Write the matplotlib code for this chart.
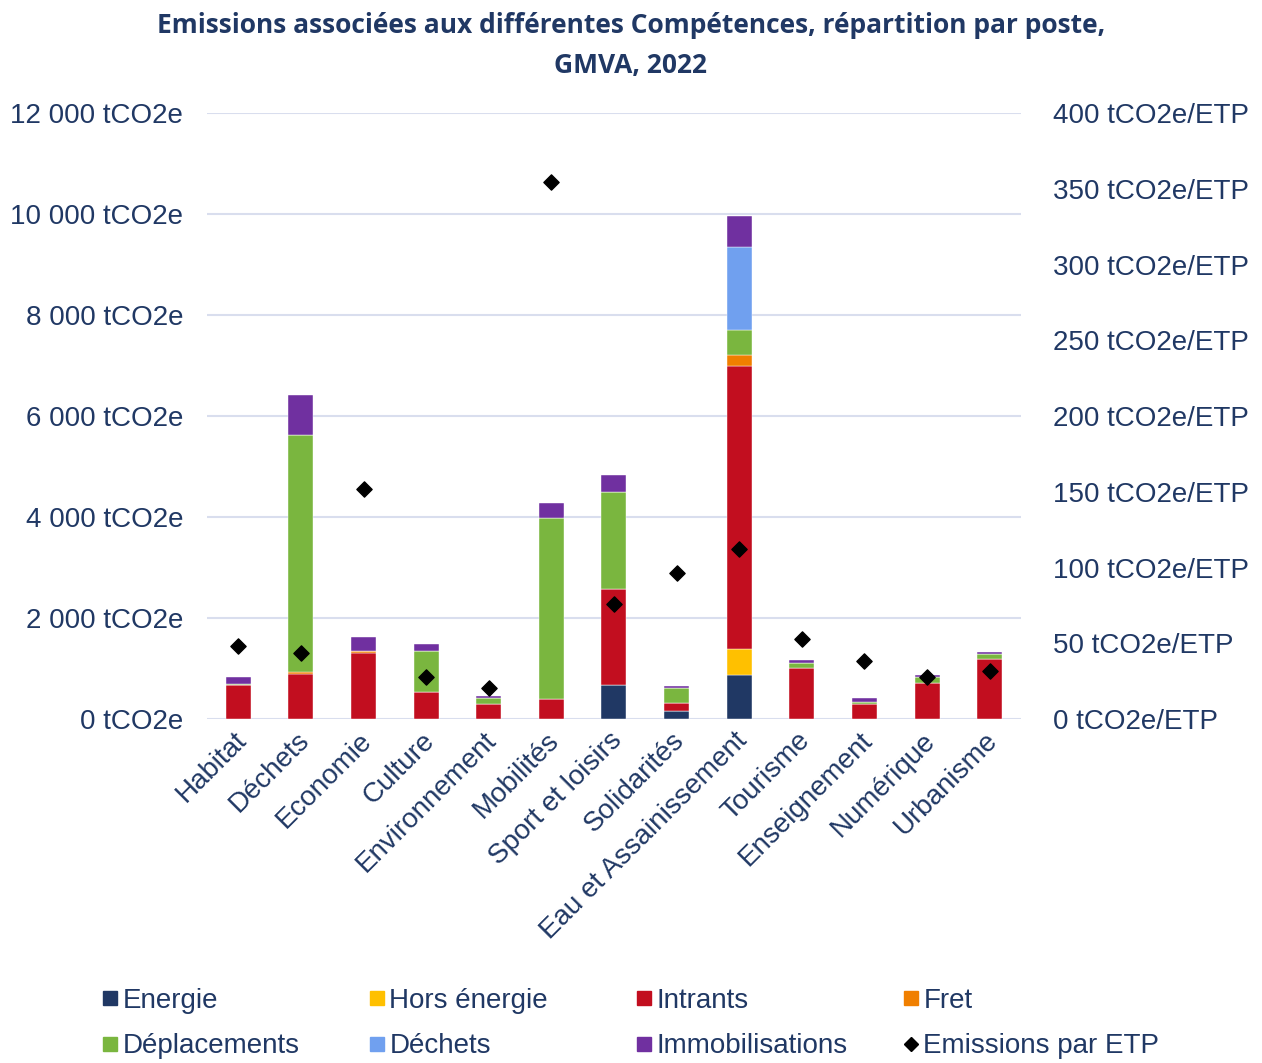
import numpy as np
import matplotlib.pyplot as plt
import matplotlib.transforms as mtransforms
from matplotlib.lines import Line2D

plt.rcParams['font.family'] = ['Liberation Sans', 'DejaVu Sans']

# Compétences et émissions par poste (tCO2e)
competences = ["Habitat", "Déchets", "Economie", "Culture", "Environnement", "Mobilités",
               "Sport et loisirs", "Solidarités", "Eau et Assainissement", "Tourisme",
               "Enseignement", "Numérique", "Urbanisme"]
energie = [0, 0, 0, 0, 0, 0, 673, 158, 875, 0, 0, 0, 0]
hors_energie = [0, 0, 0, 0, 0, 0, 0, 0, 511, 0, 0, 0, 0]
intrants = [665, 897, 1313, 535, 303, 388, 1901, 150, 5610, 1008, 305, 716, 1194]
fret = [0, 30, 30, 0, 0, 0, 0, 0, 206, 0, 0, 0, 0]
deplacements = [35, 4700, 0, 812, 105, 3598, 1921, 310, 497, 106, 27, 113, 86]
dechets = [0, 0, 0, 0, 0, 0, 0, 0, 1638, 0, 0, 0, 0]
immobilisations = [125, 792, 283, 139, 53, 297, 329, 40, 630, 60, 80, 40, 40]
# Emissions par ETP (tCO2e/ETP)
par_etp = [48, 43.6, 152, 28, 20.5, 354.5, 76, 96.6, 112, 52.6, 38, 27.9, 32]

postes = [
    ("Energie", energie, "#203864"),
    ("Hors énergie", hors_energie, "#FFC000"),
    ("Intrants", intrants, "#C20E1F"),
    ("Fret", fret, "#F07F00"),
    ("Déplacements", deplacements, "#7AB63F"),
    ("Déchets", dechets, "#70A0EF"),
    ("Immobilisations", immobilisations, "#7030A0"),
]

navy = "#203864"
grid_col = "#D9DEEE"

fig = plt.figure(figsize=(12.62, 10.63), dpi=100)
ax = fig.add_axes([0.164, 0.3236, 0.645, 0.5701])
ax2 = ax.twinx()

x = np.arange(len(competences))
bottom = np.zeros(len(competences))
for name, vals, col in postes:
    vals = np.array(vals, dtype=float)
    ax.bar(x, vals, 0.4, bottom=bottom, color=col, edgecolor="white", linewidth=0.3, zorder=3)
    bottom += vals

ax2.scatter(x, par_etp, marker="D", s=60, color="black", zorder=5)

ax.set_xlim(-0.5, len(competences) - 0.5)
ax.set_ylim(0, 12000)
ax2.set_ylim(0, 400)

yt = np.arange(0, 12001, 2000)
ax.set_yticks(yt)
ax.set_yticklabels([f"{v:,}".replace(",", " ") + " tCO2e" for v in yt])
yt2 = np.arange(0, 401, 50)
ax2.set_yticks(yt2)
ax2.set_yticklabels([f"{v} tCO2e/ETP" for v in yt2])

ax.grid(axis="y", color=grid_col, linewidth=1.5, zorder=0)
for a in (ax, ax2):
    for s in a.spines.values():
        s.set_visible(False)
    a.tick_params(length=0, labelsize=20, labelcolor=navy)
ax.tick_params(axis="y", pad=17)
ax2.tick_params(axis="y", pad=23)

ax.set_xticks(x)
ax.set_xticklabels(competences, rotation=45, ha="right", rotation_mode="anchor")
ax.tick_params(axis="x", pad=6)
shift = mtransforms.ScaledTranslation(-5 / 100, 0, fig.dpi_scale_trans)
for lbl in ax.get_xticklabels():
    lbl.set_transform(lbl.get_transform() + shift)

fig.text(0.5, 0.989, "Emissions associées aux différentes Compétences, répartition par poste,\nGMVA, 2022",
         ha="center", va="top", fontsize=19, fontweight="bold", color=navy,
         family=["Open Sans", "DejaVu Sans"], linespacing=1.65)

# Légende : 4 colonnes de 2 entrées
def sq(col):
    return Line2D([], [], marker="s", linestyle="none", markersize=10, color=col)

items = {name: sq(col) for name, _, col in postes}
items["Emissions par ETP"] = Line2D([], [], marker="D", linestyle="none", markersize=7, color="black")
columns = [["Energie", "Déplacements"], ["Hors énergie", "Déchets"],
           ["Intrants", "Immobilisations"], ["Fret", "Emissions par ETP"]]
for i, names in enumerate(columns):
    leg = fig.legend([items[k] for k in names], names, loc="upper left",
                     bbox_to_anchor=((103 + 267 * i) / 1262, 1 - 988 / 1063),
                     frameon=False, fontsize=20, handlelength=0.5, handletextpad=0.2,
                     labelspacing=0.7, borderpad=0, borderaxespad=0)
    for t in leg.get_texts():
        t.set_color(navy)

fig.savefig("out.png", dpi=100)
